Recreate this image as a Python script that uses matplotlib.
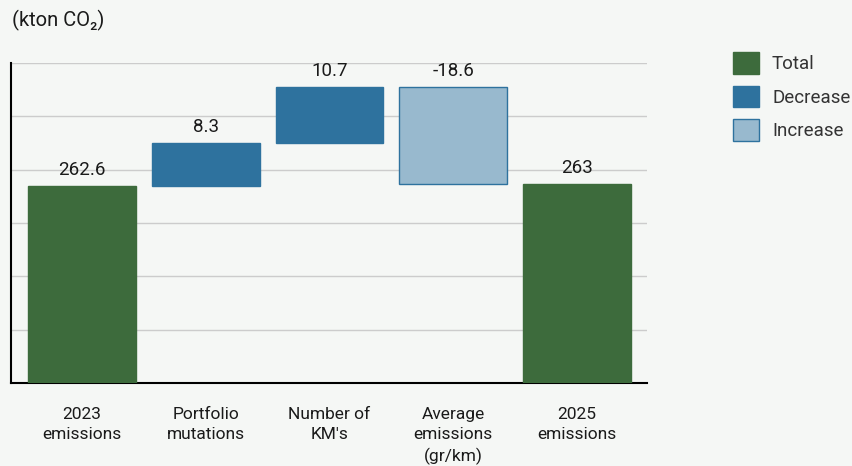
import numpy as np
import matplotlib.pyplot as plt
from matplotlib.patches import Patch

plt.rcParams['font.family'] = ['Roboto', 'DejaVu Sans']

categories = ['2023\nemissions', 'Portfolio\nmutations', 'Number of\nKM\'s',
              'Average\nemissions\n(gr/km)', '2025\nemissions']
values = [262.6, 8.3, 10.7, -18.6, 263.0]
labels = ['262.6', '8.3', '10.7', '-18.6', '263']
kinds = ['Total', 'Decrease', 'Decrease', 'Increase', 'Total']

colors = {'Total': '#3d6b3c', 'Decrease': '#2e729e', 'Increase': '#98b9ce'}
edges = {'Total': '#3d6b3c', 'Decrease': '#2e729e', 'Increase': '#2e729e'}
bg = '#f5f7f5'

fig = plt.figure(figsize=(8.52, 4.66), dpi=100, facecolor=bg)
ax = fig.add_axes([11 / 852, 1 - 383 / 466, 636 / 852, 320 / 466])
ax.set_facecolor(bg)

ymin, ymax = 224.5, 286.3
x = np.arange(len(categories))
running = 0
for i, (v, k) in enumerate(zip(values, kinds)):
    if k == 'Total':
        bottom, height = ymin, v - ymin
        running = v
        top = v
    else:
        bottom = running if v > 0 else running + v
        height = abs(v)
        running += v
        top = bottom + height
    ax.bar(x[i], height, bottom=bottom, width=0.87, color=colors[k],
           edgecolor=edges[k], linewidth=1, zorder=3)
    ax.annotate(labels[i], (x[i], top), xytext=(0, 5), textcoords='offset points',
                ha='center', va='bottom', fontsize=13.5, color='#1a1a1a')

ax.set_xlim(-0.573, 4.565)
ax.set_ylim(ymin, ymax)
ax.set_yticks(np.linspace(ymin, ymax, 7))
ax.set_yticklabels([])
ax.tick_params(axis='y', length=0)
ax.grid(axis='y', color='#cccccc', linewidth=1, zorder=0)
ax.set_xticks(x)
ax.set_xticklabels(categories, fontsize=12.5, color='#1a1a1a', linespacing=1.42)
ax.tick_params(axis='x', length=0, pad=17.5)

for s in ['top', 'right']:
    ax.spines[s].set_visible(False)
ax.spines['left'].set_linewidth(1.5)
ax.spines['bottom'].set_linewidth(1.5)

fig.text(12 / 852, 1 - 20 / 466, '(kton CO₂)', fontsize=14.5, va='center',
         color='#1a1a1a')

handles = [Patch(facecolor=colors[k], edgecolor=edges[k], label=k)
           for k in ['Total', 'Decrease', 'Increase']]
fig.legend(handles=handles, loc='upper left', bbox_to_anchor=(733 / 852, 1 - 52 / 466),
           frameon=False, fontsize=13.5, handlelength=1.39, handleheight=1.39,
           labelspacing=0.64, handletextpad=0.69, borderpad=0, borderaxespad=0,
           labelcolor='#333333')

fig.savefig('out.png', dpi=100, facecolor=bg)
